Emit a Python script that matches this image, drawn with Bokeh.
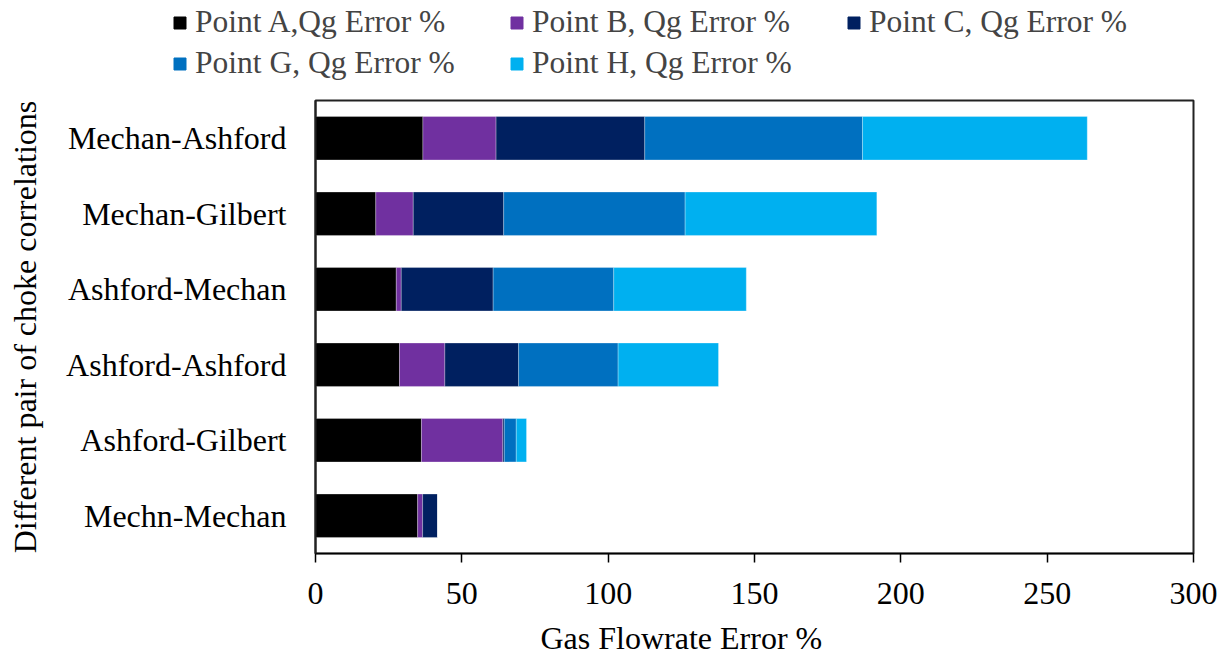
from bokeh.plotting import figure
from bokeh.layouts import column
from bokeh.models import (Legend, LegendItem, FactorRange, Range1d, SingleIntervalTicker,
                          ColumnDataSource, Label)
from bokeh.embed import file_html
from bokeh.resources import INLINE

categories = ["Mechn-Mechan", "Ashford-Gilbert", "Ashford-Ashford",
              "Ashford-Mechan", "Mechan-Gilbert", "Mechan-Ashford"]
point_a = [34.9, 36.2, 28.7, 27.6, 20.6, 36.7]
point_b = [1.7, 27.8, 15.5, 1.7, 12.8, 25.0]
point_c = [5.1, 0.5, 25.2, 31.4, 30.9, 50.8]
point_g = [0.0, 4.1, 34.0, 41.2, 62.0, 74.4]
point_h = [0.0, 3.5, 34.3, 45.3, 65.5, 76.8]

series = ["a", "b", "c", "g", "h"]
labels = ["Point A,Qg Error %", "Point B, Qg Error %", "Point C, Qg Error %",
          "Point G, Qg Error %", "Point H, Qg Error %"]
colors = ["#000000", "#7030A0", "#002060", "#0070C0", "#00B0F0"]
x_title = "Gas Flowrate Error %"
y_title = "Different pair of choke correlations"

source = ColumnDataSource(dict(cat=categories, a=point_a, b=point_b, c=point_c,
                               g=point_g, h=point_h))

FONT = "Liberation Serif"
FS = "32px"


def strip(height):
    f = figure(width=1231, height=height, x_range=Range1d(0, 300),
               y_range=FactorRange(*categories), output_backend="svg",
               toolbar_location=None, min_border=0,
               x_axis_type=None, y_axis_type=None)
    f.frame_align = False
    f.grid.grid_line_color = None
    f.outline_line_color = None
    return f


# ---- main chart ----
p = figure(width=1231, height=532, y_range=FactorRange(*categories),
           x_range=Range1d(0, 300), output_backend="svg", toolbar_location=None,
           min_border_left=315, min_border_right=38, min_border_top=15,
           min_border_bottom=64)
p.frame_align = False

rs = p.hbar_stack(series, y="cat", height=0.575, color=colors, source=source,
                  line_color="white", line_alpha=0.35, line_width=0.8)

p.y_range.range_padding = 0
p.xgrid.grid_line_color = None
p.ygrid.grid_line_color = None
p.outline_line_color = "#222222"
p.outline_line_width = 2

p.xaxis.ticker = SingleIntervalTicker(interval=50)
p.xaxis.minor_tick_line_color = None
p.xaxis.major_tick_out = 9
p.xaxis.major_tick_in = 0
p.xaxis.major_tick_line_color = "black"
p.xaxis.major_tick_line_width = 1.5
p.xaxis.axis_line_color = "black"
p.xaxis.axis_line_width = 1.5
p.xaxis.major_label_standoff = 20

p.yaxis.major_tick_line_color = None
p.yaxis.minor_tick_line_color = None
p.yaxis.axis_line_color = "#222222"
p.yaxis.axis_line_width = 2
p.yaxis.major_label_standoff = 23
p.yaxis.axis_label = y_title
p.yaxis.axis_label_standoff = 20

for ax in (p.xaxis[0], p.yaxis[0]):
    ax.major_label_text_font = FONT
    ax.major_label_text_font_size = FS
    ax.major_label_text_color = "black"
    ax.axis_label_text_font = FONT
    ax.axis_label_text_font_size = FS
    ax.axis_label_text_font_style = "normal"
    ax.axis_label_text_color = "black"

# ---- legend strip (swatches from hidden copies of the stacked bars) ----
lf = strip(85)
lrs = lf.hbar_stack(series, y="cat", height=0.575, color=colors, source=source)
for r in lrs:
    r.visible = False
legend = Legend(items=[LegendItem(label=l, renderers=[r]) for l, r in zip(labels, lrs)],
                orientation="horizontal", ncols=3, location=(172, 4),
                label_text_font=FONT, label_text_font_size="31.5px",
                glyph_width=15, glyph_height=15, label_standoff=8, spacing=5,
                label_width=309, inactive_fill_alpha=0,
                padding=0, margin=0, border_line_color=None,
                background_fill_alpha=0)
lf.add_layout(legend, "center")

# ---- x-axis title strip ----
tf = strip(38)
tf.add_layout(Label(x=540, y=18, x_units="screen", y_units="screen", text=x_title,
                    text_font=FONT, text_font_size=FS, text_color="black",
                    text_baseline="alphabetic"))

open("out.html", "w").write(file_html(column(lf, p, tf, spacing=0), INLINE))
